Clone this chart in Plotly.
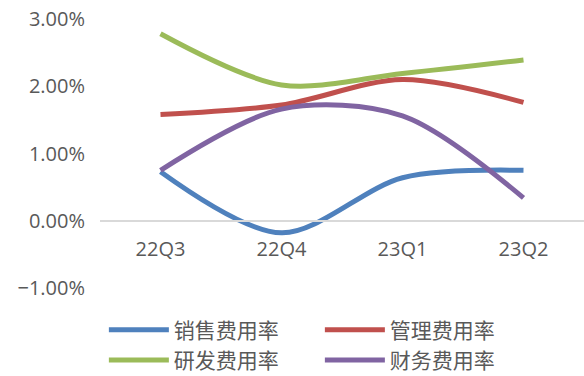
import plotly.graph_objects as go

quarters = ["22Q3", "22Q4", "23Q1", "23Q2"]
sales_rate = [0.0073, -0.0018, 0.0064, 0.0075]
admin_rate = [0.0158, 0.0172, 0.0210, 0.0176]
rd_rate = [0.0278, 0.0202, 0.0219, 0.0239]
fin_rate = [0.0075, 0.0166, 0.0156, 0.0034]

series = [
    ("销售费用率", sales_rate, "#4F81BD"),
    ("管理费用率", admin_rate, "#C0504D"),
    ("研发费用率", rd_rate, "#9BBB59"),
    ("财务费用率", fin_rate, "#8064A2"),
]

fig = go.Figure()
for name, vals, color in series:
    fig.add_trace(go.Scatter(
        x=quarters, y=vals, name=name, mode="lines",
        line=dict(color=color, width=5, shape="spline", smoothing=0.9),
    ))

font_family = "Open Sans, Noto Sans CJK SC, sans-serif"
fig.update_layout(
    width=584, height=376,
    margin=dict(l=100, r=0, t=19, b=88, autoexpand=False),
    paper_bgcolor="white", plot_bgcolor="white",
    font=dict(family=font_family, color="#595959", size=17),
    showlegend=True,
    legend=dict(
        orientation="h", x=0.008, xanchor="left", y=-0.08, yanchor="top",
        entrywidth=141, entrywidthmode="pixels",
        font=dict(family="Noto Sans CJK SC, sans-serif", size=21, color="#595959"),
        itemwidth=60, tracegroupgap=0, bgcolor="rgba(0,0,0,0)",
    ),
    xaxis=dict(
        type="category", range=[-0.5, 3.5],
        anchor="free", position=0.25,
        showline=True, linecolor="#D9D9D9", linewidth=1.5,
        showgrid=False, ticks="", ticklabelstandoff=10,
        tickfont=dict(size=20, color="#595959"),
        zeroline=False, fixedrange=True,
    ),
    yaxis=dict(
        range=[-0.01, 0.03], dtick=0.01, tickformat=".2%",
        showgrid=False, zeroline=False, showline=False, ticks="",
        ticklabelstandoff=14,
        tickfont=dict(size=20, color="#595959"),
    ),
)

fig.write_html("out.html")
